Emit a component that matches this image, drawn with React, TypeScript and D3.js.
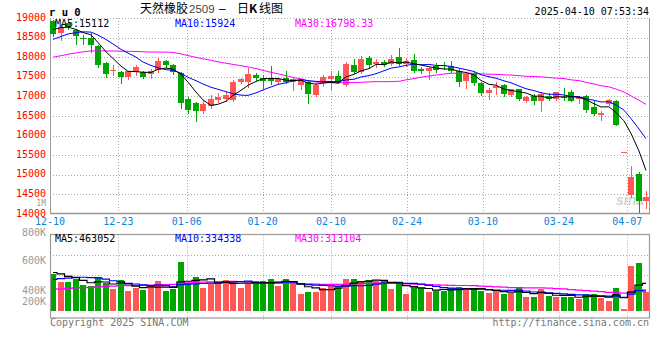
import React from "react";
import * as d3 from "d3";

const dates = [
  "12-10","12-11","12-12","12-13","12-16","12-17","12-18","12-19","12-20","12-23","12-24","12-25","12-26","12-27","12-30","12-31",
  "01-02","01-03","01-06","01-07","01-08","01-09","01-10","01-13","01-14","01-15","01-16","01-17","01-20","01-21","01-22","01-23","01-24","01-27",
  "02-05","02-06","02-07","02-10","02-11","02-12","02-13","02-14","02-17","02-18","02-19","02-20","02-21","02-24","02-25","02-26","02-27","02-28",
  "03-03","03-04","03-05","03-06","03-07","03-10","03-11","03-12","03-13","03-14","03-17","03-18","03-19","03-20","03-21","03-24","03-25","03-26","03-27","03-28","03-31",
  "04-01","04-02","04-03","04-07","04-08","04-09","04-10",
];

const opens = [
  18930,18610,18860,18700,18500,18480,18290,17850,17660,17630,
  17500,17630,17630,17580,17670,17900,17800,17590,16930,16830,
  16630,16760,16910,16940,16910,17380,17380,17550,17460,17440,
  17380,17480,17360,17290,17380,17030,17330,17440,17520,17290,
  17800,17630,17970,17820,17870,17830,18000,17830,17930,17700,
  17660,17780,17800,17780,17650,17390,17570,17350,17080,17220,
  17290,17040,17180,16880,17010,16870,17010,16940,16990,17120,
  16930,17000,16720,16530,16810,16890,15590,14490,15020,14320,
];
const highs = [
  18960,18840,18880,18720,18570,18610,18310,17890,17800,17660,
  17660,17800,17660,17700,17970,17940,17830,17630,16980,16850,
  16880,17040,17080,17100,17420,17480,17720,17600,17540,17780,
  17490,17660,17470,17440,17420,17330,17550,17660,17660,17880,
  17950,18040,18040,17950,17920,18060,18240,17990,18080,17760,
  17760,17840,17890,17900,17690,17600,17620,17380,17210,17370,
  17320,17200,17200,17020,17060,17100,17080,17120,17210,17160,
  17010,17040,16880,16620,16940,16920,15590,15230,15060,14590,
];
const lows = [
  18540,18440,18720,18330,18330,18120,17760,17500,17550,17340,
  17440,17550,17480,17480,17610,17760,17580,16700,16580,16360,
  16580,16700,16850,16880,16880,17330,17230,17420,17220,17320,
  17330,17330,17160,17180,16830,17000,17260,17200,17330,17260,
  17590,17590,17750,17760,17770,17790,17800,17780,17620,17600,
  17450,17610,17700,17630,17260,17220,17300,17030,16930,17070,
  17000,17000,16900,16860,16800,16640,16900,16900,16920,16870,
  16840,16610,16520,16400,16780,16260,15590,14440,14040,14150,
];
const closes = [
  18600,18780,18760,18530,18470,18310,17800,17580,17670,17500,
  17650,17760,17500,17650,17900,17800,17630,16840,16650,16630,
  16800,16930,16990,17030,17380,17445,17570,17480,17390,17400,
  17440,17360,17440,17420,17050,17290,17500,17520,17350,17830,
  17610,17950,17800,17890,17800,17950,17830,17910,17660,17660,
  17720,17670,17780,17650,17380,17570,17350,17080,17160,17270,
  17060,17180,16930,16990,16870,17060,16930,17100,16980,16890,
  16990,16650,16550,16570,16910,16260,15590,14950,14320,14440,
];
// volume in thousands of lots
const volumesK = [
  663,524,524,567,464,446,609,506,386,554,
  356,415,374,446,536,356,392,880,495,609,
  410,480,495,554,536,415,482,536,536,572,
  446,572,495,307,343,343,415,482,446,572,
  572,536,554,536,536,392,495,307,446,415,
  343,356,356,415,434,415,374,356,325,356,
  307,325,415,255,248,386,258,250,246,252,
  211,301,301,235,181,415,36,813,867,343,
];
// sessions before the visible window (needed for the moving averages)
const priorCloses = [
  17630,17600,17580,17600,17650,17700,17700,17660,17690,17750,
  17820,17780,17850,17900,17830,17880,17950,18000,17920,17950,
  18050,18120,18180,18260,18400,18550,18700,18820,18870,
];
const priorVolumesK = [
  270,290,320,280,300,340,260,310,290,330,
  300,280,320,310,290,340,270,300,310,270,
  380,410,450,440,510,650,740,680,717,
];

const priceTicks = [19000,18500,18000,17500,17000,16500,16000,15500,15000,14500,14000];
const dateTicks = ["12-10","12-23","01-06","01-20","02-10","02-24","03-10","03-24","04-07"];
const volTickLabels = ["800K","600K","400K","200K"];
const maPeriods = [5,10,30];
const maColors = ["#000000","#0000ff","#ff00ff"];
const priceMALabels = ["MA5:15112","MA10:15924","MA30:16798.33"];
const volMALabels = ["MA5:463052","MA10:334338","MA30:313104"];

const MONO = "'DejaVu Sans Mono', 'Liberation Mono', monospace";
const CJK = "'Noto Sans CJK SC', sans-serif";
const UP = "#ff5656";
const DOWN = "#00a600";
const GRID = "#aaaaaa";
const BORDER = "#999999";

function movingAvg(prior: number[], vals: number[], p: number): number[] {
  const all = prior.concat(vals);
  const off = prior.length;
  return vals.map((_, i) => d3.mean(all.slice(off + i - p + 1, off + i + 1)) as number);
}

export default function App() {
  const W = 660, H = 360;
  const L = 50, R = 650;
  const pTop = 18, pBot = 214;
  const vTop = 234.5, vBot = 318, vBase = 310.7;
  const n = dates.length;

  const x = d3.scaleBand<number>().domain(d3.range(n)).range([L, R - 0.5]).paddingInner(0.2).paddingOuter(0.05);
  const gx = d3.scaleLinear().domain([0, n - 1]).range([L, R]);
  const yP = d3.scaleLinear().domain([14000, 19000]).range([pBot, pTop]);
  const yV = d3.scaleLinear().domain([0, 1380]).range([vBase, 234.3]);
  const bw = Math.round(x.bandwidth());
  const bx = (i: number) => Math.round(x(i) as number);
  const cx = (i: number) => bx(i) + bw / 2;

  const priceMAs = maPeriods.map((p) => movingAvg(priorCloses, closes, p));
  const volMAs = maPeriods.map((p) => movingAvg(priorVolumesK, volumesK, p));

  const pLine = d3.line<number>().x((_, i) => cx(i)).y((d) => yP(d));
  const vLine = d3.line<number>().x((_, i) => cx(i)).y((d) => yV(d)).curve(d3.curveStep);

  const volLabelY = [232.5, 260.7, 290.7, 301];
  const volGridY = [255, 275];

  return (
    <svg width={W} height={H} style={{ position: "absolute", left: 0, top: 0, background: "#fff" }}
      xmlns="http://www.w3.org/2000/svg">
      <rect x={0} y={0} width={W} height={H} fill="#fff" />

      {/* title */}
      <text x={49} y={16} fontFamily={MONO} fontSize={10.5} fontWeight="bold" fill="#000">r u 0</text>
      <text y={12.5} fontFamily={CJK} fontSize={12} fill="#000">
        <tspan x={140}>天然橡胶</tspan>
        <tspan x={189} fontFamily="'Liberation Sans', Arial, sans-serif" fontSize={11.5} fill="#444">2509</tspan>
        <tspan x={219} fontFamily="'Liberation Sans', Arial, sans-serif" fontSize={12}>–</tspan>
        <tspan x={237}>日</tspan>
        <tspan x={249} fontWeight="bold">K</tspan>
        <tspan x={259}>线图</tspan>
      </text>
      <text x={649} y={15} textAnchor="end" fontFamily={MONO} fontSize={10} fill="#000">2025-04-10 07:53:34</text>

      {/* price grid */}
      {priceTicks.slice(0, -1).map((t) => (
        <line key={"ph" + t} x1={L} x2={R} y1={Math.round(yP(t)) + 0.5} y2={Math.round(yP(t)) + 0.5}
          stroke={GRID} strokeDasharray="1,2" />
      ))}
      {dateTicks.slice(1).map((d) => {
        const gxv = Math.round(gx(dates.indexOf(d))) + 0.5;
        return (
          <g key={"vg" + d}>
            <line x1={gxv} x2={gxv} y1={pTop} y2={pBot} stroke={GRID} strokeDasharray="1,2" />
            <line x1={gxv} x2={gxv} y1={vTop} y2={320} stroke={GRID} strokeDasharray="1,2" />
          </g>
        );
      })}
      {/* price panel borders */}
      <line x1={L + 0.5} x2={L + 0.5} y1={pTop} y2={pBot} stroke={BORDER} />
      <line x1={R - 0.5} x2={R - 0.5} y1={pTop} y2={pBot} stroke={BORDER} />
      <line x1={L} x2={R} y1={pBot - 0.5} y2={pBot - 0.5} stroke={BORDER} strokeWidth={1.5} />

      {/* watermark */}
      <text x={616} y={205} fontFamily="'Liberation Sans', Arial, sans-serif" fontStyle="italic" fontWeight="bold"
        fontSize={14} fill="#d4d4d4">sina</text>

      {/* price axis labels */}
      {priceTicks.map((t) => (
        <text key={"pl" + t} x={46} y={yP(t) - 1} dy="0.35em" textAnchor="end" fontFamily={MONO} fontSize={10} fill="#ff0000">
          {t}
        </text>
      ))}
      <text x={46} y={203} dy="0.35em" textAnchor="end" fontFamily={MONO} fontSize={8} fill="#999">1M</text>

      {/* candles */}
      {closes.map((c, i) => {
        const o = opens[i];
        const up = c >= o;
        const col = up ? UP : DOWN;
        const top = Math.round(yP(Math.max(o, c)));
        const bot = Math.round(yP(Math.min(o, c)));
        const wx = bx(i) + 3.5;
        return (
          <g key={"c" + i}>
            <line x1={wx} x2={wx} y1={Math.round(yP(highs[i]))} y2={Math.round(yP(lows[i])) + 1} stroke={col} />
            <rect x={bx(i)} y={top} width={bw} height={Math.max(1, bot - top)} fill={col} />
          </g>
        );
      })}

      {/* price MAs */}
      {priceMAs.slice().reverse().map((m, k) => (
        <path key={"pm" + k} d={pLine(m) || ""} fill="none" stroke={maColors[maColors.length - 1 - k]} strokeWidth={1} />
      ))}
      {priceMALabels.map((t, k) => (
        <text key={"pml" + k} x={55 + 120 * k} y={27} fontFamily={MONO} fontSize={10} fill={maColors[k]}>{t}</text>
      ))}

      {/* date labels */}
      {dateTicks.map((d) => (
        <text key={"dl" + d} x={gx(dates.indexOf(d))} y={225} textAnchor="middle" fontFamily={MONO} fontSize={10} fill="#0a84d8">
          {d}
        </text>
      ))}

      {/* volume panel */}
      {volGridY.map((y) => (
        <line key={"vh" + y} x1={L} x2={R} y1={y + 0.5} y2={y + 0.5} stroke={GRID} strokeDasharray="1,2" />
      ))}
      {volumesK.map((v, i) => {
        const up = closes[i] >= opens[i];
        const top = Math.round(yV(v));
        return <rect key={"v" + i} x={bx(i)} y={top} width={bw} height={Math.max(1, Math.round(vBase) - top)} fill={up ? UP : DOWN} />;
      })}
      {volMAs.slice().reverse().map((m, k) => (
        <path key={"vm" + k} d={vLine(m) || ""} fill="none" stroke={maColors[maColors.length - 1 - k]} strokeWidth={1.2} />
      ))}
      <rect x={L + 0.5} y={vTop} width={R - L - 1} height={vBot - vTop} fill="none" stroke={BORDER} strokeWidth={1.2} />
      {volMALabels.map((t, k) => (
        <text key={"vml" + k} x={55 + 120 * k} y={242} fontFamily={MONO} fontSize={10} fill={maColors[k]}>{t}</text>
      ))}
      {volTickLabels.map((t, k) => (
        <text key={"vl" + t} x={46} y={volLabelY[k]} dy="0.35em" textAnchor="end" fontFamily={MONO} fontSize={10} fill="#999">{t}</text>
      ))}

      {/* footer */}
      <text x={50} y={326} fontFamily={MONO} fontSize={10} fill="#777">Copyright 2025 SINA.COM</text>
      <text x={649} y={326} textAnchor="end" fontFamily={MONO} fontSize={10} fill="#777">http://finance.sina.com.cn</text>
    </svg>
  );
}
